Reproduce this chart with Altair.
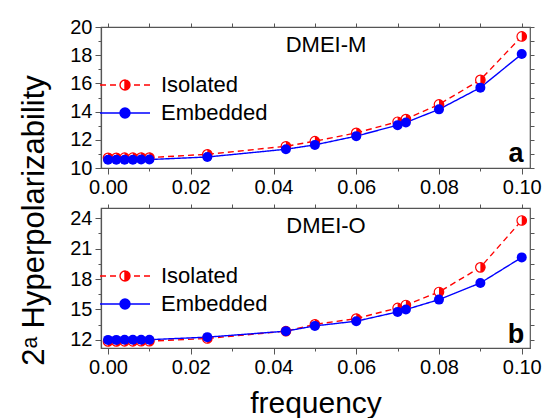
import altair as alt
import pandas as pd

# ---------------- data ----------------
freq = [0.000, 0.002, 0.004, 0.006, 0.008, 0.010, 0.024, 0.043, 0.050,
        0.060, 0.070, 0.072, 0.080, 0.090, 0.100]

m_isolated = [10.72, 10.72, 10.73, 10.73, 10.74, 10.74, 10.97, 11.54, 11.90,
              12.49, 13.28, 13.47, 14.51, 16.25, 19.33]
m_embedded = [10.58, 10.58, 10.59, 10.59, 10.60, 10.60, 10.78, 11.33, 11.64,
              12.26, 13.04, 13.23, 14.16, 15.70, 18.08]

o_isolated = [11.85, 11.85, 11.86, 11.86, 11.87, 11.87, 12.14, 12.86, 13.53,
              14.10, 15.15, 15.44, 16.72, 19.15, 23.77]
o_embedded = [12.00, 12.00, 12.01, 12.01, 12.02, 12.02, 12.27, 12.86, 13.38,
              13.84, 14.76, 14.99, 15.97, 17.61, 20.13]

series_names = ["Isolated", "Embedded"]
panel_labels = ["DMEI-M", "DMEI-O"]
panel_letters = ["a", "b"]

x_ticks = [0.00, 0.02, 0.04, 0.06, 0.08, 0.10]
x_minor = [0.01, 0.03, 0.05, 0.07, 0.09]
x_all = [0.00, 0.01, 0.02, 0.03, 0.04, 0.05, 0.06, 0.07, 0.08, 0.09, 0.10]
m_ticks = [10, 12, 14, 16, 18, 20]
m_minor = [11, 13, 15, 17, 19]
o_ticks = [12, 15, 18, 21, 24]
o_minor = [13.5, 16.5, 19.5, 22.5]

# ---------------- styling ----------------
FONT = "Liberation Sans"
RED = "#ff0000"
BLUE = "#0000ff"
FRAME = "#555555"
X_DOMAIN = [-0.0017, 0.102]

RIGHT_HALF = "M0,-1A1,1 0 0,1 0,1Z"
ISO_PATH = ("M-5,0L-3.8,0M-3,0L-1.8,0M1.8,0L3,0M3.8,0L5,0"
            "M1,0A1,1 0 0,1 -1,0A1,1 0 0,1 1,0Z"
            "M0,-1A1,1 0 0,0 0,1Z")
EMB_PATH = "M-5,0L5,0M1,0A1,1 0 0,1 -1,0A1,1 0 0,1 1,0Z"


def make_panel(iso, emb, ydom, yticks, yminor, label, letter, legend_y,
               x_title, y_title):
    n = len(freq)
    df = pd.DataFrame({
        "frequency": freq + freq,
        "value": iso + emb,
        "series": ["Isolated"] * n + ["Embedded"] * n,
    })
    iso_df = df[df.series == "Isolated"]
    emb_df = df[df.series == "Embedded"]

    xs = alt.Scale(domain=X_DOMAIN, nice=False, zero=False)
    ys = alt.Scale(domain=ydom, nice=False, zero=False)
    col_scale = alt.Scale(domain=series_names, range=[RED, BLUE])
    # reversed order so that this scale is not merged into the visible legend
    dash_scale = alt.Scale(domain=series_names[::-1], range=[[1, 0], [6, 4]])

    main_x = alt.Axis(orient="bottom", values=x_ticks, format=".2f", tickSize=6,
                      labelFontSize=20, labelPadding=3,
                      title=x_title if x_title else None, titleFontSize=30,
                      titlePadding=11, titleFontWeight="normal")
    if y_title:
        main_y = alt.Axis(orient="left", values=yticks, format="d", tickSize=6,
                          labelFontSize=20, labelPadding=3,
                          title=y_title, titleFontSize=31, titleFontWeight="normal",
                          titleAngle=270, titleX=-67, titleY=193,
                          titleAlign="center", titleBaseline="middle")
    else:
        main_y = alt.Axis(orient="left", values=yticks, format="d", tickSize=6,
                          labelFontSize=20, labelPadding=3, title=None)

    legend = alt.Legend(
        orient="none", legendX=13, legendY=legend_y, title=None, padding=0,
        labelFont=FONT, labelFontSize=22, labelColor="black", labelOffset=25,
        symbolSize=100, symbolStrokeWidth=1.4, symbolOpacity=1,
        rowPadding=6, labelLimit=300,
    )

    lines = alt.Chart(df).mark_line(strokeWidth=1.4).encode(
        x=alt.X("frequency:Q", scale=xs, axis=main_x),
        y=alt.Y("value:Q", scale=ys, axis=main_y),
        stroke=alt.Stroke("series:N", scale=col_scale, legend=legend),
        strokeDash=alt.StrokeDash("series:N", scale=dash_scale, legend=None),
    )

    # carries the legend only (no rows survive the filter)
    key = alt.Chart(df).mark_point(filled=True, opacity=1, strokeWidth=1.4).encode(
        fill=alt.Fill("series:N", scale=col_scale, legend=legend),
        stroke=alt.Stroke("series:N", scale=col_scale, legend=legend),
        shape=alt.Shape("series:N",
                        scale=alt.Scale(domain=series_names, range=[ISO_PATH, EMB_PATH]),
                        legend=legend),
    ).transform_filter("false")

    iso_ring = alt.Chart(iso_df).mark_point(
        shape="circle", size=90, filled=True, fill="white", stroke=RED,
        strokeWidth=1.2, opacity=1
    ).encode(
        x=alt.X("frequency:Q", scale=xs,
                axis=alt.Axis(orient="top", values=x_all, tickSize=4, labels=False,
                              domain=False, title=None)),
        y=alt.Y("value:Q", scale=ys,
                axis=alt.Axis(orient="right", values=sorted(yticks + yminor), tickSize=4,
                              labels=False, domain=False, title=None)),
    )

    iso_half = alt.Chart(iso_df).mark_point(
        shape=RIGHT_HALF, size=90, filled=True, color=RED, opacity=1
    ).encode(
        x=alt.X("frequency:Q", scale=xs, axis=None),
        y=alt.Y("value:Q", scale=ys, axis=None),
    )

    emb_pts = alt.Chart(emb_df).mark_point(
        shape="circle", size=100, filled=True, color=BLUE, opacity=1
    ).encode(
        x=alt.X("frequency:Q", scale=xs,
                axis=alt.Axis(orient="bottom", values=x_minor, tickSize=3, labels=False,
                              domain=False, title=None)),
        y=alt.Y("value:Q", scale=ys,
                axis=alt.Axis(orient="left", values=yminor, tickSize=3, labels=False,
                              domain=False, title=None)),
    )

    name = alt.Chart(pd.DataFrame({"t": [label]})).mark_text(
        font=FONT, fontSize=22, color="black", align="center", baseline="middle"
    ).encode(text="t:N", x=alt.value(225), y=alt.value(18))

    tag = alt.Chart(pd.DataFrame({"t": [letter]})).mark_text(
        font=FONT, fontSize=27, fontWeight="bold", color="black", align="center",
        baseline="middle"
    ).encode(text="t:N", x=alt.value(415), y=alt.value(127))

    return alt.layer(lines, key, iso_ring, iso_half, emb_pts, name, tag).resolve_axis(
        x="independent", y="independent"
    ).properties(width=429, height=141 if letter == "a" else 140)


top = make_panel(m_isolated, m_embedded, [10, 20], m_ticks, m_minor,
                 panel_labels[0], panel_letters[0], 47, None,
                 "2\u1d43 Hyperpolarizability")
bottom = make_panel(o_isolated, o_embedded, [11.2, 25], o_ticks, o_minor,
                    panel_labels[1], panel_letters[1], 57, "frequency", None)

chart = alt.vconcat(top, bottom, spacing=40, bounds="flush").resolve_scale(
    fill="independent", stroke="independent", shape="independent",
    strokeDash="independent"
).resolve_legend(fill="independent", stroke="independent", shape="independent").properties(
    padding={"left": 17, "top": 16, "right": 2, "bottom": 2},
    background="white",
).configure_view(
    stroke=FRAME, strokeWidth=1.2
).configure_axis(
    labelFont=FONT, titleFont=FONT, labelColor="black", titleColor="black",
    tickColor=FRAME, domainColor=FRAME, domainWidth=1.2, tickWidth=1, grid=False,
)

chart.save("out.html", embed_options={"renderer": "svg", "actions": False})
